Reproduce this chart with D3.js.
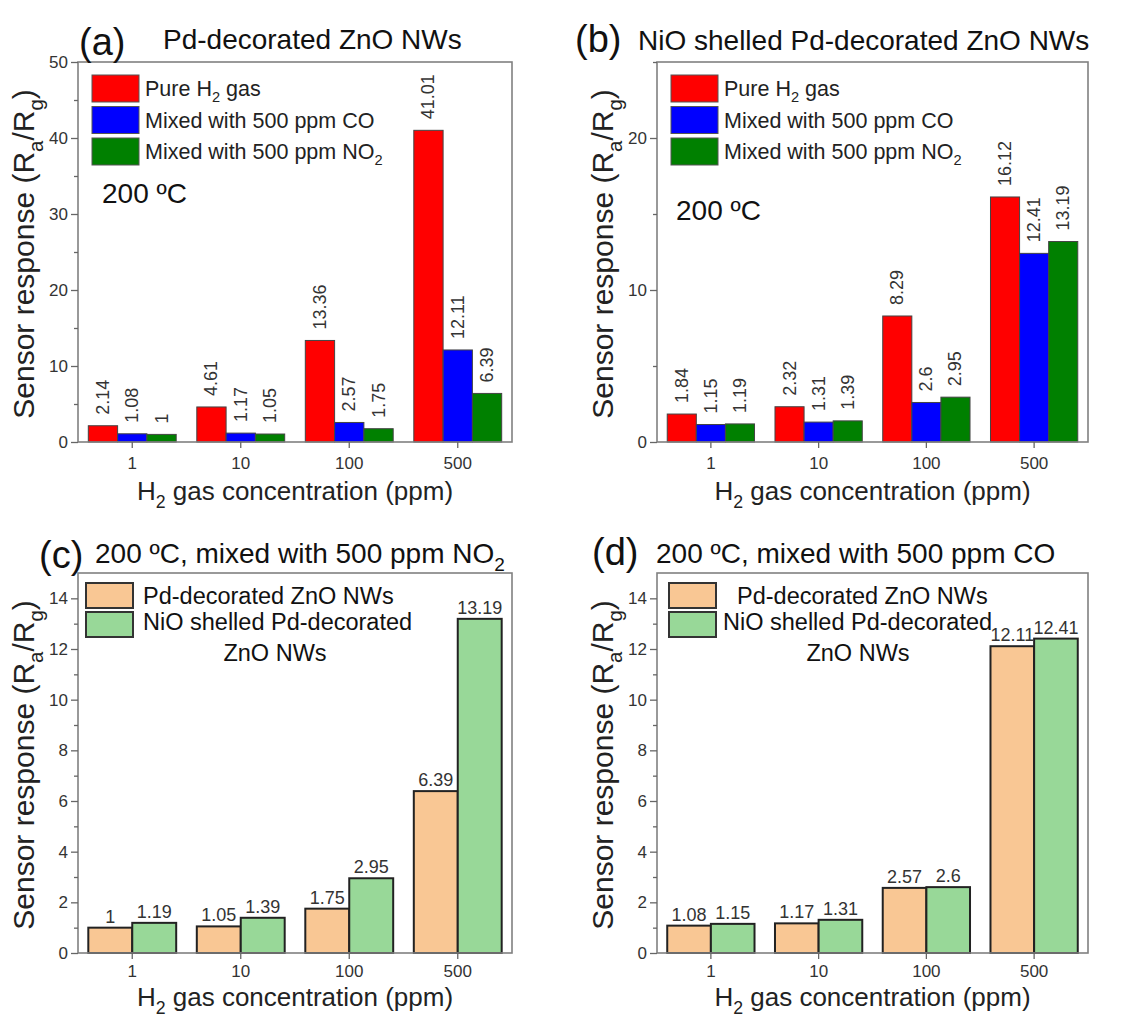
<!DOCTYPE html>
<html><head><meta charset="utf-8">
<script src="https://cdn.jsdelivr.net/npm/d3@7"></script>
<style>
body{margin:0;background:#fff;}
svg{display:block;}
text{font-family:"Liberation Sans",Arial,Helvetica,sans-serif;}
</style>
</head><body>
<svg id="chart" width="1142" height="1017"></svg>
<script>
// ---------- data ----------
const categories = ["1", "10", "100", "500"];
const pdPure = [2.14, 4.61, 13.36, 41.01];
const pdCO   = [1.08, 1.17, 2.57, 12.11];
const pdNO2  = [1, 1.05, 1.75, 6.39];
const niPure = [1.84, 2.32, 8.29, 16.12];
const niCO   = [1.15, 1.31, 2.6, 12.41];
const niNO2  = [1.19, 1.39, 2.95, 13.19];

const yMajorA = [0, 10, 20, 30, 40, 50];
const yMinorA = [5, 15, 25, 35, 45];
const yMajorB = [0, 10, 20];
const yMinorB = [5, 15, 25];
const yMajorCD = [0, 2, 4, 6, 8, 10, 12, 14];
const yMinorCD = [1, 3, 5, 7, 9, 11, 13];

const legendAB = ["Pure H_{2} gas", "Mixed with 500 ppm CO", "Mixed with 500 ppm NO_{2}"];
const legendCD = ["Pd-decorated ZnO NWs", "NiO shelled Pd-decorated", "ZnO NWs"];
const colorsAB = ["#ff0000", "#0000ff", "#008000"];
const colorsCD = ["#f9c794", "#98d898"];

const xTitle = "H_{2} gas concentration (ppm)";
const yTitle = "Sensor response (R_{a}/R_{g})";

// ---------- helpers ----------
const svg = d3.select("#chart");

function rich(sel, str, fs) {
  const parts = str.split(/(_\{[^}]*\})/).filter(p => p.length);
  let shift = 0;
  parts.forEach(p => {
    if (p.startsWith("_{")) {
      const s = fs * 0.3;
      sel.append("tspan").attr("font-size", fs * 0.68).attr("dy", s).text(p.slice(2, -1));
      shift = s;
    } else {
      const t = sel.append("tspan").text(p);
      if (shift) { t.attr("dy", -shift); shift = 0; }
    }
  });
  return sel;
}

function drawPanel(o) {
  const g = svg.append("g");
  const x = d3.scaleBand().domain(categories).range([o.left, o.right])
    .paddingInner(0.19).paddingOuter(0.095);
  const xs = d3.scaleBand().domain(d3.range(o.series.length)).range([0, x.bandwidth()]);
  const y = d3.scaleLinear().domain([0, o.yMax]).range([o.bottom, o.top]);

  // bars
  o.series.forEach((vals, si) => {
    g.selectAll(null).data(vals).enter().append("rect")
      .attr("x", (d, i) => x(categories[i]) + xs(si))
      .attr("y", d => y(d))
      .attr("width", xs.bandwidth())
      .attr("height", d => y(0) - y(d))
      .attr("fill", o.colors[si])
      .attr("stroke", o.barStroke)
      .attr("stroke-width", o.barStrokeW);
  });

  // value labels
  o.series.forEach((vals, si) => {
    vals.forEach((v, i) => {
      const cx = x(categories[i]) + xs(si) + xs.bandwidth() / 2;
      if (o.labels === "rot") {
        g.append("text")
          .attr("transform", `translate(${cx},${y(v) - 11}) rotate(-90)`)
          .attr("dominant-baseline", "central")
          .attr("font-size", 18).attr("fill", "#333")
          .text(String(v));
      } else {
        g.append("text")
          .attr("x", cx).attr("y", y(v) - 5)
          .attr("text-anchor", "middle")
          .attr("font-size", 18).attr("fill", "#333")
          .text(String(v));
      }
    });
  });

  // frame
  g.append("rect").attr("x", o.left).attr("y", o.top)
    .attr("width", o.right - o.left).attr("height", o.bottom - o.top)
    .attr("fill", "none").attr("stroke", "#808080").attr("stroke-width", 1.6);

  // y axis major
  const ya = g.append("g").attr("transform", `translate(${o.left},0)`)
    .call(d3.axisLeft(y).tickValues(o.yMajor).tickSize(7).tickPadding(3).tickFormat(d3.format("d")));
  ya.select(".domain").remove();
  ya.selectAll("line").attr("stroke", "#666").attr("stroke-width", 1.3);
  ya.selectAll("text").attr("font-size", 17).attr("fill", "#333")
    .style("font-family", "'Liberation Sans', Arial, sans-serif");
  // y axis minor
  const ym = g.append("g").attr("transform", `translate(${o.left},0)`)
    .call(d3.axisLeft(y).tickValues(o.yMinor).tickSize(4).tickFormat(""));
  ym.select(".domain").remove();
  ym.selectAll("line").attr("stroke", "#666").attr("stroke-width", 1.3);

  // x axis
  const xa = g.append("g").attr("transform", `translate(0,${o.bottom})`)
    .call(d3.axisBottom(x).tickSize(6).tickPadding(o.xPad));
  xa.select(".domain").remove();
  xa.selectAll("line").attr("stroke", "#666").attr("stroke-width", 1.3);
  xa.selectAll("text").attr("font-size", 17).attr("fill", "#333")
    .style("font-family", "'Liberation Sans', Arial, sans-serif");

  // axis titles
  rich(g.append("text").attr("x", (o.left + o.right) / 2).attr("y", o.xTitleY)
    .attr("text-anchor", "middle").attr("font-size", 26).attr("fill", "#222"), xTitle, 26);
  rich(g.append("text")
    .attr("transform", `translate(${o.yTitleX},${(o.top + o.bottom) / 2 + 2}) rotate(-90)`)
    .attr("text-anchor", "middle").attr("font-size", 30).attr("fill", "#222"), yTitle, 30);

  // panel letter + title
  g.append("text").attr("x", o.letterX).attr("y", o.letterY)
    .attr("font-size", 38).attr("fill", "#111").text(o.letter);
  rich(g.append("text").attr("x", o.titleX).attr("y", o.titleY)
    .attr("font-size", 28).attr("fill", "#111"), o.title, 28);

  // legend
  if (o.legendType === "AB") {
    legendAB.forEach((lab, i) => {
      const ry = o.top + 13 + i * 31.5;
      g.append("rect").attr("x", o.left + 14).attr("y", ry).attr("width", 47).attr("height", 27)
        .attr("fill", o.colors[i]).attr("stroke", "#555").attr("stroke-width", 1);
      rich(g.append("text").attr("x", o.left + 67).attr("y", ry + 21)
        .attr("font-size", 21.5).attr("fill", "#222"), lab, 21.5);
    });
    g.append("text").attr("x", o.tempX).attr("y", o.tempY)
      .attr("font-size", 28).attr("fill", "#111").text("200 ºC");
  } else {
    o.colors.forEach((c, i) => {
      g.append("rect").attr("x", o.left + o.legDx).attr("y", o.top + 10 + i * 29)
        .attr("width", 47).attr("height", 25)
        .attr("fill", c).attr("stroke", "#333").attr("stroke-width", 2);
    });
    g.append("text").attr("x", o.left + o.leg1Dx).attr("y", o.top + 31)
      .attr("font-size", 23.5).attr("fill", "#111").text(legendCD[0]);
    g.append("text").attr("x", o.left + o.leg2Dx).attr("y", o.top + 57)
      .attr("font-size", 23.5).attr("fill", "#111").text(legendCD[1]);
    g.append("text").attr("x", o.left + o.leg3Cx).attr("y", o.top + 88)
      .attr("text-anchor", "middle")
      .attr("font-size", 23.5).attr("fill", "#111").text(legendCD[2]);
  }
}

// ---------- panels ----------
drawPanel({left: 78, right: 512, top: 62, bottom: 442, yMax: 50, yMajor: yMajorA, yMinor: yMinorA,
  series: [pdPure, pdCO, pdNO2], colors: colorsAB, barStroke: "#444", barStrokeW: 1, labels: "rot",
  xPad: 9, xTitleY: 500, yTitleX: 34, letter: "(a)", letterX: 79, letterY: 55,
  title: "Pd-decorated ZnO NWs", titleX: 163, titleY: 49,
  legendType: "AB", tempX: 102, tempY: 203});

drawPanel({left: 657, right: 1088, top: 62, bottom: 442, yMax: 25, yMajor: yMajorB, yMinor: yMinorB,
  series: [niPure, niCO, niNO2], colors: colorsAB, barStroke: "#444", barStrokeW: 1, labels: "rot",
  xPad: 9, xTitleY: 500, yTitleX: 613, letter: "(b)", letterX: 575, letterY: 52,
  title: "NiO shelled Pd-decorated ZnO NWs", titleX: 638, titleY: 50,
  legendType: "AB", tempX: 676, tempY: 220});

drawPanel({left: 78, right: 512, top: 573, bottom: 953, yMax: 15, yMajor: yMajorCD, yMinor: yMinorCD,
  series: [pdNO2, niNO2], colors: colorsCD, barStroke: "#222", barStrokeW: 2, labels: "hor",
  xPad: 6, xTitleY: 1006, yTitleX: 34, letter: "(c)", letterX: 39, letterY: 568,
  title: "200 ºC, mixed with 500 ppm NO_{2}", titleX: 95, titleY: 563,
  legendType: "CD", legDx: 8, leg1Dx: 65, leg2Dx: 65, leg3Cx: 197});

drawPanel({left: 657, right: 1088, top: 573, bottom: 953, yMax: 15, yMajor: yMajorCD, yMinor: yMinorCD,
  series: [pdCO, niCO], colors: colorsCD, barStroke: "#222", barStrokeW: 2, labels: "hor",
  xPad: 6, xTitleY: 1006, yTitleX: 613, letter: "(d)", letterX: 592, letterY: 565,
  title: "200 ºC, mixed with 500 ppm CO", titleX: 656, titleY: 563,
  legendType: "CD", legDx: 12, leg1Dx: 80, leg2Dx: 66, leg3Cx: 201});
</script>
</body></html>
